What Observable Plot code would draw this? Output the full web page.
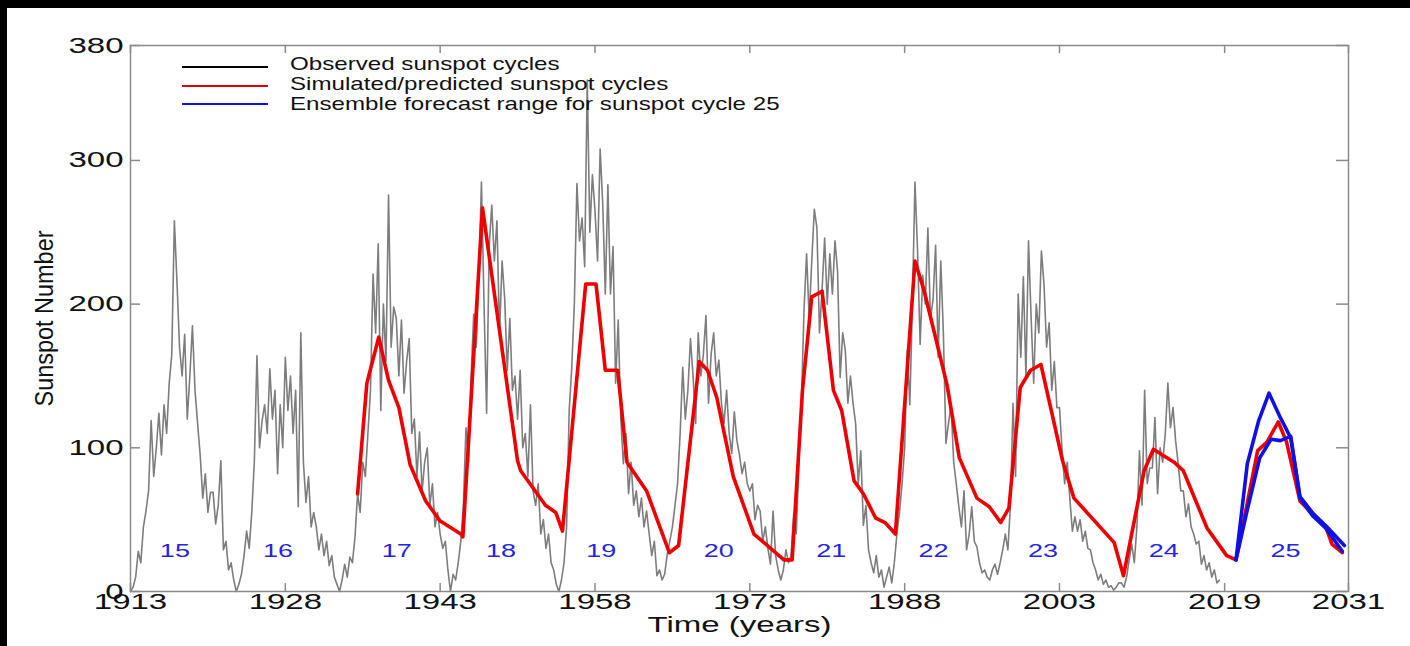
<!DOCTYPE html>
<html>
<head>
<meta charset="utf-8">
<script src="https://cdn.jsdelivr.net/npm/d3@7"></script>
<script src="https://cdn.jsdelivr.net/npm/@observablehq/plot@0.6"></script>
<style>
  html, body { margin: 0; padding: 0; background: #fff; }
  #page { position: relative; width: 1410px; height: 646px; box-sizing: border-box;
          border-top: 8px solid #000; border-left: 7px solid #000; background: #fff; overflow: hidden;
          font-family: "Liberation Sans", Arial, Helvetica, sans-serif; }
  #chart { position: absolute; left: 0; top: 0; }
  .lg-row { position: absolute; left: 175px; height: 20px; width: 700px; }
  .lg-line { position: absolute; left: 0; width: 86px; height: 2px; }
  .lg-txt { position: absolute; left: 108px; top: 0; font-size: 19px; line-height: 20px; color: #111;
            white-space: nowrap; transform-origin: left center; transform: scaleX(1.27); }
</style>
</head>
<body>
<div id="page">
  <div id="chart"></div>
  <div class="lg-row" style="top:46px"><div class="lg-line" style="top:12px;background:#000"></div><div class="lg-txt">Observed sunspot cycles</div></div>
  <div class="lg-row" style="top:65.5px"><div class="lg-line" style="top:11px;background:#e00000"></div><div class="lg-txt">Simulated/predicted sunspot cycles</div></div>
  <div class="lg-row" style="top:86px"><div class="lg-line" style="top:8.5px;background:#1010e0"></div><div class="lg-txt">Ensemble forecast range for sunspot cycle 25</div></div>
</div>
<script>
// ---- Data ----
// Observed monthly sunspot record, sampled 4 times a year from 1913.0
const observedStart = 1913;
const observedQuarterly = [
  0, 3, 10, 28,       20, 45, 56, 70,       119, 80, 100, 124,    95, 130, 110, 145,
  165, 258, 216, 170, 150, 179, 120, 150,   185, 140, 117, 95,    65, 82, 55, 69,
  69, 47, 60, 91,     29, 35, 15, 20,       8, 0, 5, 12,          25, 42, 30, 55,
  91, 164, 100, 119,  130, 110, 155, 120,   140, 82, 130, 100,    163, 126, 150, 110,
  140, 59, 180, 90,   62, 80, 45, 55,       45, 29, 40, 25,       35, 18, 25, 10,
  5, 0, 8, 19,        10, 24, 20, 38,       68, 55, 90, 80,       110, 140, 221, 180,
  242, 126, 200, 160, 276, 170, 198, 190,   150, 189, 138, 160,   176, 110, 120, 80,
  111, 70, 90, 100,   60, 75, 45, 55,       40, 30, 35, 15,       0, 12, 8, 20,
  35, 60, 114, 90,    150, 193, 170, 220,   285, 200, 124, 240,   269, 230, 258, 180,
  230, 204, 154, 190, 140, 150, 120, 154,   100, 110, 80, 130,    70, 60, 75, 40,
  50, 30, 40, 20,     15, 5, 0, 8,          20, 45, 126, 156,     200, 284, 244, 260,
  226, 356, 250, 290, 265, 230, 308, 270,   207, 283, 207, 240,   145, 189, 120, 89,
  110, 68, 90, 60,    70, 52, 65, 45,       56, 40, 25, 35,       11, 15, 8, 12,
  26, 35, 45, 60,     75, 110, 156, 120,    140, 176, 150, 117,   180, 150, 165, 192,
  131, 165, 180, 150, 161, 131, 117, 140,   110, 96, 125, 105,    95, 82, 90, 75,
  70, 75, 50, 60,     56, 35, 45, 30,       19, 56, 25, 15,       8, 15, 29, 20,
  25, 54, 40, 90,     131, 196, 235, 190,   230, 266, 253, 180,   210, 246, 200, 235,
  207, 244, 223, 149, 180, 168, 131, 150,   131, 117, 75, 98,     46, 60, 29, 20,
  13, 25, 10, 15,     3, 10, 17, 6,         20, 40, 55, 75,       100, 168, 130, 200,
  285, 237, 172, 220, 200, 253, 190, 203,   241, 163, 230, 180,   103, 117, 130, 90,
  75, 59, 45, 70,     29, 40, 59, 35,       31, 20, 13, 15,       10, 8, 15, 19,
  12, 20, 29, 40,     29, 60, 131, 80,      207, 163, 219, 150,   244, 191, 145, 200,
  180, 237, 214, 170, 187, 140, 160, 128,   128, 98, 75, 90,      65, 42, 52, 42,
  50, 35, 42, 30,     29, 20, 15, 8,        12, 5, 8, 3,          4, 1, 3, 6,
  6, 3, 10, 22,       33, 20, 45, 98,       60, 140, 75, 86,      86, 121, 68, 100,
  90, 110, 145, 114,  128, 105, 89, 70,     70, 52, 61, 45,       40, 33, 35, 19,
  25, 15, 20, 10,     15, 6, 8
];

// Simulated / predicted cycles (red)
const simYears = [1935.0,1935.9,1937.05,1938.0,1939.0,1940.1,1941.6,1943.0,1945.0,1945.2,
  1947.1,1950.5,1950.8,1953.2,1954.2,1954.85,1957.1,1958.1,1959.0,1960.2,
  1961.1,1963.0,1965.2,1966.1,1968.1,1968.9,1969.8,1971.4,1973.4,1976.3,
  1977.1,1978.1,1979.0,1980.0,1981.1,1981.9,1983.1,1984.0,1985.2,1986.1,
  1987.1,1989.0,1989.9,1992.1,1993.3,1995.0,1996.2,1997.3,1998.1,1999.2,
  2000.2,2001.2,2003.3,2004.4,2008.3,2009.2,2011.2,2012.1,2014.1,2015.0,
  2017.3,2017.9,2019.2,2020.1,2022.2,2023.1,2024.2,2025.0,2026.3,2027.5,
  2028.8,2029.4,2030.4];
const simValues = [68,145,177,147,128,88,63,49,40,38,
  267,91,84,60,55,42,214,214,154,154,
  90,70,27,32,160,154,135,80,40,22,
  22,140,205,209,140,126,77,68,51,48,
  40,230,209,144,93,65,59,48,58,142,
  154,158,91,65,34,11,84,99,90,84,
  44,38,25,22,98,104,118,104,63,54,
  45,33,27];

// Ensemble forecast range for cycle 25 (blue)
const ensHighYears = [2020.1,2021.2,2022.3,2023.3,2024.4,2025.4,2026.3,2027.6,2028.9,2030.6];
const ensHighValues = [22,89,119,138,121,107,66,54,45,32];
const ensLowYears = [2020.1,2021.2,2022.4,2023.5,2024.4,2025.4,2026.3,2027.5,2028.8,2030.4];
const ensLowValues = [22,57,93,106,105,108,65,53,44,28];

// Cycle numbers and where they are written
const cycleNumbers = ["15","16","17","18","19","20","21","22","23","24","25"];
const cycleYears = [1917.3,1927.3,1938.8,1948.9,1958.6,1970.0,1980.9,1990.8,2001.4,2013.1,2024.9];
const cycleLabelLevel = 28;

// Axis ticks
const xTicks = [1913,1928,1943,1958,1973,1988,2003,2019,2031];
const yTicks = [0,100,200,300,380];

// ---- Build tables ----
const observed = observedQuarterly.map((v, i) => ({t: observedStart + i / 4, v}));
const sim = simYears.map((t, i) => ({t, v: simValues[i]}));
const ensHigh = ensHighYears.map((t, i) => ({t, v: ensHighValues[i]}));
const ensLow = ensLowYears.map((t, i) => ({t, v: ensLowValues[i]}));
const cycles = cycleNumbers.map((n, i) => ({n, t: cycleYears[i]}));

const W = 1403, H = 638;
const mL = 123, mT = 37, mR = 62, mB = 55;
const fw = W - mL - mR, fh = H - mT - mB;
const axisGray = "#8a8a8a";
const yTitle = "Sunspot Number";

const chart = Plot.plot({
  width: W, height: H,
  marginLeft: mL, marginTop: mT, marginRight: mR, marginBottom: mB,
  x: {domain: [1913, 2031], axis: null},
  y: {domain: [0, 380], axis: null},
  style: {background: "transparent", fontFamily: "'Liberation Sans', Arial, Helvetica, sans-serif", overflow: "visible"},
  marks: [
    Plot.line(observed, {x: "t", y: "v", stroke: "#7d7d7d", strokeWidth: 1.6}),
    Plot.line(sim, {x: "t", y: "v", stroke: "#ee0000", strokeWidth: 3.6, strokeLinejoin: "round"}),
    Plot.line(ensHigh, {x: "t", y: "v", stroke: "#1010e6", strokeWidth: 3.6, strokeLinejoin: "round"}),
    Plot.line(ensLow, {x: "t", y: "v", stroke: "#1010e6", strokeWidth: 3.6, strokeLinejoin: "round"}),
    Plot.text(cycles, {x: "t", y: cycleLabelLevel, text: "n", fill: "#2525dd", fontSize: 18}),
    // inward ticks on all four sides
    Plot.tickX(xTicks, {x: d => d, stroke: axisGray, strokeWidth: 1.5, insetTop: fh - 8}),
    Plot.tickX(xTicks, {x: d => d, stroke: axisGray, strokeWidth: 1.5, insetBottom: fh - 8}),
    Plot.tickY(yTicks, {y: d => d, stroke: axisGray, strokeWidth: 1.5, insetRight: fw - 10}),
    Plot.tickY(yTicks, {y: d => d, stroke: axisGray, strokeWidth: 1.5, insetLeft: fw - 12}),
    Plot.frame({stroke: axisGray, strokeWidth: 1.5}),
    // tick labels
    Plot.text(xTicks, {x: d => d, frameAnchor: "bottom", dy: 17, text: d => String(d), fill: "#111", fontSize: 22}),
    Plot.text(yTicks, {y: d => d, frameAnchor: "left", dx: -7, textAnchor: "end", text: d => String(d), fill: "#111", fontSize: 22}),
    // axis titles
    Plot.text(["Time (years)"], {frameAnchor: "bottom", dy: 40, textAnchor: "middle", fill: "#111", fontSize: 22}),
    Plot.text([yTitle], {frameAnchor: "left", dx: -86, rotate: -90, textAnchor: "middle", fill: "#111", fontSize: 25})
  ]
});
document.getElementById("chart").appendChild(chart);

// widen the text the way the horizontally stretched original figure shows it
chart.querySelectorAll("text").forEach(t => {
  const L = t.getComputedTextLength();
  if (!L) return;
  const target = t.textContent === yTitle ? 176 : L * 1.5;
  t.setAttribute("textLength", target);
  t.setAttribute("lengthAdjust", "spacingAndGlyphs");
});
</script>
</body>
</html>
